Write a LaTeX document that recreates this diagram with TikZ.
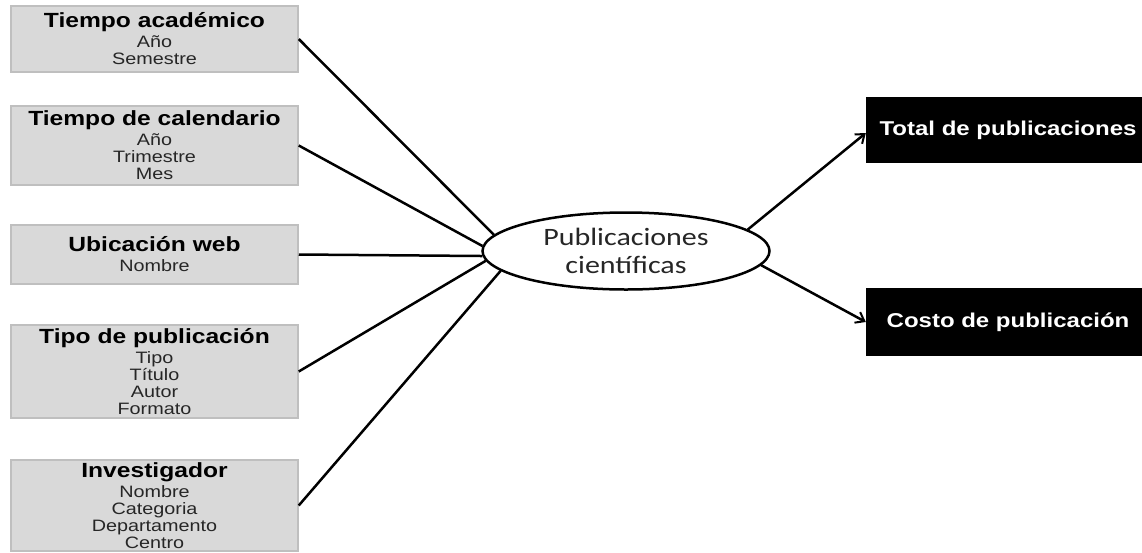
\documentclass[tikz,border=0pt]{standalone}
\usepackage{fontspec}
\setmainfont{Liberation Sans}
\newfontfamily\arialx[FakeStretch=1.2]{Liberation Sans}
\newfontfamily\calx[FakeStretch=1.2]{Carlito}
\usetikzlibrary{arrows.meta,shapes.geometric}
\definecolor{boxgray}{HTML}{D9D9D9}
\definecolor{boxedge}{HTML}{BFBFBF}
\tikzset{
  dimbox/.style={draw=boxedge, line width=1.5pt, fill=boxgray, minimum width=287pt,
    inner sep=0pt, align=center, font=\arialx\fontsize{16.5}{17}\selectfont, text=black!85},
  factbox/.style={fill=black, text=white, minimum width=284pt, inner sep=0pt,
    font=\arialx\bfseries\fontsize{20}{22}\selectfont},
  link/.style={line width=2.5pt, black},
  arr/.style={link, -{Straight Barb[length=8pt,width=12pt,line width=2pt]}},
  hub/.style={draw, ellipse, line width=2.5pt, minimum width=287pt, minimum height=77pt,
    inner sep=0pt, align=center, text=black!85, font=\calx\fontsize{25}{28}\selectfont}
}
\newcommand{\ttl}[1]{{\fontsize{20.5}{20}\selectfont\bfseries\color{black}#1}}
\begin{document}
\begin{tikzpicture}[x=1pt,y=-1pt]
\useasboundingbox[fill=white] (0,0) rectangle (1142,552);
\node[dimbox, minimum height=66pt] (b1) at (154.5,39) {\ttl{Tiempo académico}\\[3pt] Año\\ Semestre};
\node[dimbox, minimum height=79pt] (b2) at (154.5,145.5) {\ttl{Tiempo de calendario}\\[3pt] Año\\ Trimestre\\ Mes};
\node[dimbox, minimum height=59pt] (b3) at (154.5,254.5) {\ttl{Ubicación web}\\[3pt] Nombre};
\node[dimbox, minimum height=93pt] (b4) at (154.5,371.5) {\ttl{Tipo de publicación}\\[3pt] Tipo\\ Título\\ Autor\\ Formato};
\node[dimbox, minimum height=91pt] (b5) at (154.5,505.5) {\ttl{Investigador}\\[3pt] Nombre\\ Categoria\\ Departamento\\ Centro};
\node[hub] (pub) at (626,251) {Publicaciones\\científicas};
\node[factbox, minimum height=66pt] (tot) at (1008,130) {Total de publicaciones};
\node[factbox, minimum height=68pt] (cost) at (1008,322) {Costo de publicación};
\draw[link] (b1.east) -- (pub.173);
\draw[link] (b2.east) -- (pub.178);
\draw[link] (b3.east) -- (pub.182);
\draw[link] (b4.east) -- (pub.184);
\draw[link] (b5.east) -- (pub.189);
\draw[arr] (pub.10) -- ([yshift=-3pt]tot.west);
\draw[arr] (pub.-6) -- (cost.west);
\end{tikzpicture}
\end{document}
